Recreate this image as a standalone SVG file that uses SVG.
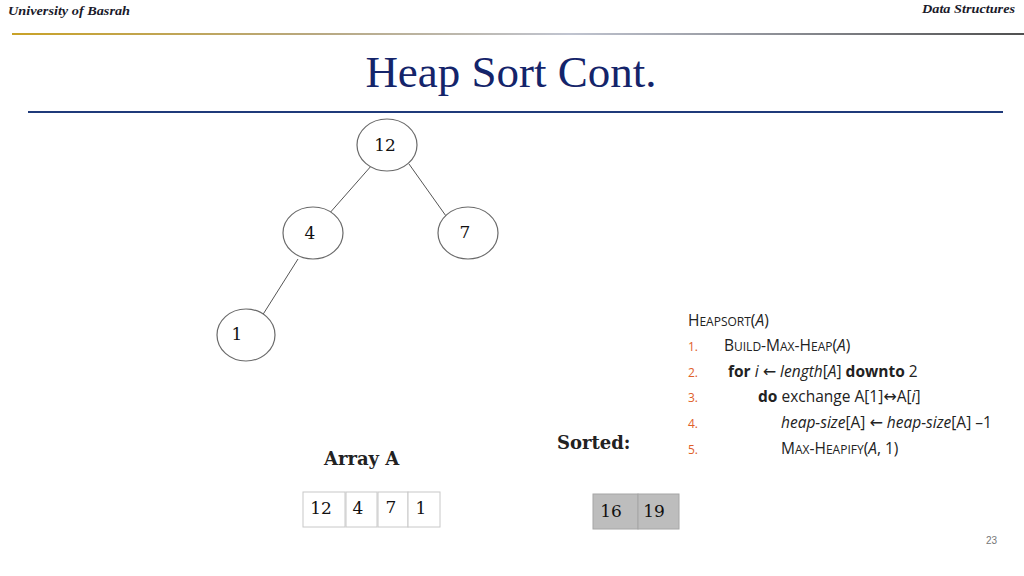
<svg xmlns="http://www.w3.org/2000/svg" width="1024" height="576" viewBox="0 0 1024 576">
<style>
.hdr{font-family:"Liberation Serif","DejaVu Serif",serif;font-style:italic;font-weight:bold;font-size:13px;fill:#1a1a2a}
.title{font-family:"Liberation Serif","DejaVu Serif",serif;font-size:45px;fill:#14246a}
.node ellipse{fill:#fff;stroke:#6a6a6a;stroke-width:1.2}
.nt{font-family:"DejaVu Serif","Liberation Serif",serif;font-size:17px;fill:#111}
.edge{stroke:#555;stroke-width:1}
.cell{fill:#fff;stroke:#c8c8c8;stroke-width:1}
.scell{fill:#bdbdbd;stroke:#a6a6a6;stroke-width:1}
.lbl{font-family:"DejaVu Serif","Liberation Serif",serif;font-weight:bold;font-size:18px;fill:#222}
.code{font-family:"Open Sans","Liberation Sans",sans-serif;font-size:15.5px;fill:#222}
.num{font-family:"Open Sans","Liberation Sans",sans-serif;font-size:12px;fill:#e0602a}
.sc{font-size:12px}
.ar{font-family:"DejaVu Sans",sans-serif;font-size:16px}
</style>
<defs>
<linearGradient id="gold" x1="0" x2="1" y1="0" y2="0">
<stop offset="0" stop-color="#c9a227"/>
<stop offset="0.3" stop-color="#b8a880"/>
<stop offset="0.55" stop-color="#c0c4d0"/>
<stop offset="1" stop-color="#505050"/>
</linearGradient>
</defs>
<rect width="1024" height="576" fill="#fff"/>
<text class="hdr" x="8" y="15" textLength="122" lengthAdjust="spacingAndGlyphs">University of Basrah</text>
<text class="hdr" x="922" y="13" textLength="93" lengthAdjust="spacingAndGlyphs">Data Structures</text>
<rect x="12" y="33" width="1012" height="2" fill="url(#gold)"/>
<text class="title" x="511" y="87" text-anchor="middle">Heap Sort Cont.</text>
<rect x="28" y="111" width="975" height="2" fill="#1f3a7a"/>

<g id="connectors">
<line class="edge" x1="372" y1="165" x2="328" y2="215"/>
<line class="edge" x1="409" y1="164" x2="446" y2="216"/>
<line class="edge" x1="298" y1="259" x2="262" y2="316"/>
</g>
<g id="node12" class="node"><ellipse cx="387" cy="145" rx="30" ry="26"/><text class="nt" x="385" y="151" text-anchor="middle">12</text></g>
<g id="node4" class="node"><ellipse cx="313" cy="233" rx="30" ry="26"/><text class="nt" x="310" y="239" text-anchor="middle">4</text></g>
<g id="node7" class="node"><ellipse cx="468" cy="233" rx="30" ry="26"/><text class="nt" x="465" y="238" text-anchor="middle">7</text></g>
<g id="node1" class="node"><ellipse cx="246" cy="335" rx="29" ry="26"/><text class="nt" x="237" y="340" text-anchor="middle">1</text></g>

<g id="arrayA">
<text class="lbl" x="324" y="465">Array A</text>
<rect class="cell" x="303" y="492" width="42" height="35"/>
<rect class="cell" x="346" y="492" width="31" height="35"/>
<rect class="cell" x="378" y="492" width="30" height="35"/>
<rect class="cell" x="408" y="492" width="32" height="35"/>
<text class="nt" x="321" y="514" text-anchor="middle">12</text>
<text class="nt" x="358" y="514" text-anchor="middle">4</text>
<text class="nt" x="391" y="513" text-anchor="middle">7</text>
<text class="nt" x="421" y="514" text-anchor="middle">1</text>
</g>
<g id="sorted">
<text class="lbl" x="557" y="449">Sorted:</text>
<rect class="scell" x="593" y="494" width="45" height="35"/>
<rect class="scell" x="638" y="494" width="41" height="35"/>
<text class="nt" x="611" y="517" text-anchor="middle">16</text>
<text class="nt" x="654" y="517" text-anchor="middle">19</text>
</g>

<g id="code">
<text class="code" x="688" y="326">H<tspan class="sc">EAPSORT</tspan>(<tspan font-style="italic">A</tspan>)</text>
<text class="num" x="688" y="351">1.</text>
<text class="code" x="724" y="351">B<tspan class="sc">UILD</tspan>-M<tspan class="sc">AX</tspan>-H<tspan class="sc">EAP</tspan>(<tspan font-style="italic">A</tspan>)</text>
<text class="num" x="688" y="377">2.</text>
<text class="code" x="728" y="377"><tspan font-weight="bold">for</tspan> <tspan font-style="italic">i</tspan> <tspan class="ar">←</tspan> <tspan font-style="italic">length</tspan>[<tspan font-style="italic">A</tspan>]  <tspan font-weight="bold">downto</tspan> 2</text>
<text class="num" x="688" y="402">3.</text>
<text class="code" x="758" y="402"><tspan font-weight="bold">do</tspan> exchange A[1]<tspan class="ar">↔</tspan>A[<tspan font-style="italic">i</tspan>]</text>
<text class="num" x="688" y="428">4.</text>
<text class="code" x="781" y="428"><tspan font-style="italic">heap-size</tspan>[A] <tspan class="ar">←</tspan> <tspan font-style="italic">heap-size</tspan>[A] –1</text>
<text class="num" x="688" y="454">5.</text>
<text class="code" x="781" y="454">M<tspan class="sc">AX</tspan>-H<tspan class="sc">EAPIFY</tspan>(<tspan font-style="italic">A</tspan>, 1)</text>
</g>
<text x="986" y="544" font-family="Liberation Sans, sans-serif" font-size="10" fill="#777">23</text>
</svg>
